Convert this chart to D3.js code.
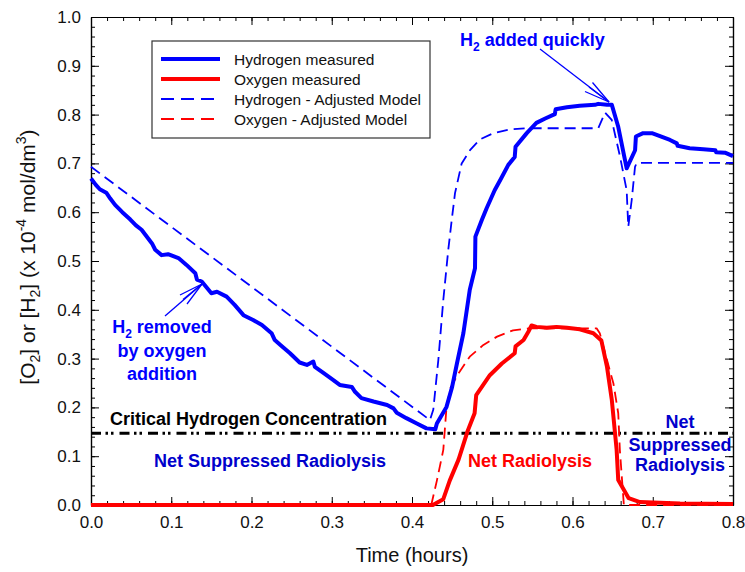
<!DOCTYPE html>
<html>
<head>
<meta charset="utf-8">
<script src="https://cdn.jsdelivr.net/npm/d3@7"></script>
<style>
  html, body { margin: 0; padding: 0; background: #fff; }
  svg { display: block; font-family: "Liberation Sans", Arial, Helvetica, sans-serif; }
</style>
</head>
<body>
<svg id="chart" width="745" height="572"></svg>
<script>
// Time axis (hours) and concentration axis (x 10^-4 mol/dm3)
const xMajorTicks = [0, 0.1, 0.2, 0.3, 0.4, 0.5, 0.6, 0.7, 0.8];
const yMajorTicks = [0, 0.1, 0.2, 0.3, 0.4, 0.5, 0.6, 0.7, 0.8, 0.9, 1.0];

// Hydrogen measured: [time, concentration]
const hydrogenMeasured = [
  [0.000,0.669],[0.006,0.656],[0.011,0.647],[0.019,0.640],[0.024,0.628],[0.030,0.615],
  [0.039,0.600],[0.049,0.585],[0.056,0.573],[0.063,0.564],[0.076,0.536],[0.080,0.523],
  [0.088,0.512],[0.096,0.514],[0.109,0.506],[0.119,0.492],[0.130,0.475],[0.132,0.462],
  [0.138,0.458],[0.150,0.434],[0.157,0.437],[0.169,0.427],[0.179,0.410],[0.190,0.389],
  [0.202,0.379],[0.213,0.369],[0.225,0.352],[0.229,0.338],[0.236,0.328],[0.248,0.311],
  [0.260,0.292],[0.269,0.287],[0.277,0.294],[0.279,0.283],[0.290,0.270],[0.302,0.256],
  [0.310,0.246],[0.325,0.242],[0.329,0.232],[0.337,0.219],[0.352,0.212],[0.369,0.205],
  [0.377,0.198],[0.381,0.189],[0.393,0.178],[0.406,0.167],[0.418,0.157],[0.429,0.155],
  [0.431,0.167],[0.437,0.184],[0.443,0.201],[0.450,0.242],[0.456,0.290],[0.464,0.352],
  [0.472,0.441],[0.4785,0.485],[0.4790,0.550],[0.487,0.584],[0.493,0.608],[0.503,0.645],
  [0.510,0.666],[0.520,0.697],[0.528,0.713],[0.529,0.734],[0.543,0.762],[0.555,0.783],
  [0.566,0.792],[0.578,0.801],[0.579,0.811],[0.593,0.815],[0.609,0.818],[0.628,0.820],
  [0.632,0.822],[0.643,0.820],[0.649,0.820],[0.657,0.775],[0.6675,0.690],[0.678,0.727],
  [0.679,0.755],[0.688,0.762],[0.699,0.762],[0.7215,0.748],[0.730,0.741],[0.731,0.736],
  [0.746,0.731],[0.763,0.729],[0.778,0.727],[0.779,0.723],[0.790,0.722],[0.800,0.715]
];

// Oxygen measured
const oxygenMeasured = [
  [0.000,0.000],[0.426,0.000],[0.439,0.012],[0.447,0.050],[0.458,0.093],[0.469,0.150],
  [0.478,0.188],[0.480,0.225],[0.497,0.266],[0.512,0.290],[0.528,0.311],[0.529,0.325],
  [0.539,0.338],[0.545,0.355],[0.549,0.368],[0.555,0.365],[0.568,0.363],[0.580,0.365],
  [0.593,0.363],[0.609,0.360],[0.626,0.352],[0.636,0.337],[0.643,0.283],[0.649,0.215],
  [0.655,0.113],[0.657,0.051],[0.670,0.014],[0.684,0.006],[0.734,0.003],[0.800,0.002]
];

// Hydrogen - adjusted model
const hydrogenModel = [
  [0.000,0.693],[0.4224,0.174],[0.4265,0.195],[0.4328,0.297],[0.439,0.420],[0.4452,0.523],
  [0.4495,0.584],[0.4536,0.639],[0.4619,0.700],[0.4723,0.727],[0.4847,0.749],[0.5013,0.762],
  [0.5221,0.770],[0.5429,0.772],[0.6321,0.772],[0.6405,0.804],[0.6489,0.789],[0.6592,0.714],
  [0.6675,0.645],[0.6695,0.570],[0.6738,0.625],[0.6779,0.693],[0.680,0.701],[0.800,0.701]
];

// Oxygen - adjusted model
const oxygenModel = [
  [0.000,0.000],[0.424,0.000],[0.431,0.050],[0.439,0.113],[0.443,0.200],[0.448,0.240],
  [0.458,0.270],[0.472,0.304],[0.489,0.328],[0.506,0.345],[0.526,0.358],[0.547,0.362],
  [0.630,0.362],[0.634,0.352],[0.643,0.297],[0.651,0.249],[0.657,0.188],[0.659,0.113],
  [0.664,0.000],[0.800,0.000]
];

const criticalHydrogen = 0.147;

const seriesNames = ["Hydrogen measured", "Oxygen measured", "Hydrogen - Adjusted Model", "Oxygen - Adjusted Model"];
const seriesData = [hydrogenMeasured, oxygenMeasured, hydrogenModel, oxygenModel];
const seriesColors = ["#0000ff", "#ff0000", "#0000ff", "#ff0000"];
const seriesDashed = [false, false, true, true];

const svg = d3.select("#chart");
const x = d3.scaleLinear().domain([0, 0.8]).range([91, 733]);
const y = d3.scaleLinear().domain([0, 1]).range([505, 17]);

const fmt = d3.format(".1f");
const minorX = d3.range(0, 0.8001, 0.02);
const minorY = d3.range(0, 1.0001, 0.02);

function styleAxis(g) {
  g.selectAll("path.domain").attr("stroke", "#000").attr("stroke-width", 1.2);
  g.selectAll(".tick line").attr("stroke", "#000").attr("stroke-width", 1);
  g.selectAll(".tick text").attr("fill", "#111").attr("font-size", 17);
}

// minor ticks (all four sides, pointing inward)
svg.append("g").attr("transform", `translate(0,${y(0)})`)
  .call(d3.axisBottom(x).tickValues(minorX).tickFormat("").tickSize(-4).tickSizeOuter(0)).call(styleAxis);
svg.append("g").attr("transform", `translate(0,${y(1)})`)
  .call(d3.axisTop(x).tickValues(minorX).tickFormat("").tickSize(-4).tickSizeOuter(0)).call(styleAxis);
svg.append("g").attr("transform", `translate(${x(0)},0)`)
  .call(d3.axisLeft(y).tickValues(minorY).tickFormat("").tickSize(-4).tickSizeOuter(0)).call(styleAxis);
svg.append("g").attr("transform", `translate(${x(0.8)},0)`)
  .call(d3.axisRight(y).tickValues(minorY).tickFormat("").tickSize(-4).tickSizeOuter(0)).call(styleAxis);

// major ticks with labels
svg.append("g").attr("transform", `translate(0,${y(0)})`)
  .call(d3.axisBottom(x).tickValues(xMajorTicks).tickFormat(fmt).tickSize(-8).tickSizeOuter(0).tickPadding(11)).call(styleAxis);
svg.append("g").attr("transform", `translate(0,${y(1)})`)
  .call(d3.axisTop(x).tickValues(xMajorTicks).tickFormat("").tickSize(-8).tickSizeOuter(0)).call(styleAxis);
svg.append("g").attr("transform", `translate(${x(0)},0)`)
  .call(d3.axisLeft(y).tickValues(yMajorTicks).tickFormat(fmt).tickSize(-8).tickSizeOuter(0).tickPadding(10)).call(styleAxis);
svg.append("g").attr("transform", `translate(${x(0.8)},0)`)
  .call(d3.axisRight(y).tickValues(yMajorTicks).tickFormat("").tickSize(-8).tickSizeOuter(0)).call(styleAxis);

// critical hydrogen concentration line
svg.append("line")
  .attr("x1", x(0)).attr("x2", x(0.8))
  .attr("y1", y(criticalHydrogen)).attr("y2", y(criticalHydrogen))
  .attr("stroke", "#000").attr("stroke-width", 3)
  .attr("stroke-dasharray", "10,4.5,2.5,3,2.5,6");

// data lines
const line = d3.line().x(d => x(d[0])).y(d => y(d[1]));
const drawOrder = [2, 3, 1, 0];
drawOrder.forEach(i => {
  svg.append("path")
    .datum(seriesData[i])
    .attr("d", line)
    .attr("fill", "none")
    .attr("stroke", seriesColors[i])
    .attr("stroke-width", seriesDashed[i] ? 1.8 : 4)
    .attr("stroke-linejoin", "round")
    .attr("stroke-dasharray", seriesDashed[i] ? "11,6" : null);
});

// legend
const legend = svg.append("g");
legend.append("rect")
  .attr("x", 152).attr("y", 41).attr("width", 278).attr("height", 97)
  .attr("fill", "#fff").attr("stroke", "#333").attr("stroke-width", 1.2);
seriesNames.forEach((name, i) => {
  const ly = 59 + i * 20;
  legend.append("line")
    .attr("x1", 161).attr("x2", 220).attr("y1", ly).attr("y2", ly)
    .attr("stroke", seriesColors[i])
    .attr("stroke-width", seriesDashed[i] ? 1.8 : 4)
    .attr("stroke-dasharray", seriesDashed[i] ? "13,7" : null);
  legend.append("text")
    .attr("x", 234).attr("y", ly + 5.5)
    .attr("font-size", 15.5).attr("fill", "#111")
    .text(name);
});

// annotations
function boldText(tx, ty, color, anchor, size) {
  return svg.append("text").attr("x", tx).attr("y", ty)
    .attr("font-size", size || 18).attr("font-weight", "bold")
    .attr("fill", color).attr("text-anchor", anchor || "start");
}

boldText(110, 425, "#000").text("Critical Hydrogen Concentration");
boldText(154, 467, "#0000cc").text("Net Suppressed Radiolysis");
boldText(468, 467, "#ff0000").text("Net Radiolysis");
boldText(680, 428, "#0000cc", "middle").text("Net");
boldText(680, 451, "#0000cc", "middle").text("Suppressed");
boldText(680, 471, "#0000cc", "middle").text("Radiolysis");

// H2 added quickly
const tAdd = boldText(460, 46, "#0000ff");
tAdd.append("tspan").text("H");
tAdd.append("tspan").attr("font-size", 12).attr("dy", 5).text("2");
tAdd.append("tspan").attr("dy", -5).text(" added quickly");

// H2 removed by oxygen addition
const tRem = boldText(162, 333, "#0000ff", "middle");
tRem.append("tspan").text("H");
tRem.append("tspan").attr("font-size", 12).attr("dy", 5).text("2");
tRem.append("tspan").attr("dy", -5).text(" removed");
boldText(162, 357, "#0000ff", "middle").text("by oxygen");
boldText(162, 380, "#0000ff", "middle").text("addition");

// arrows
function arrow(x1, y1, x2, y2, heads) {
  const g = svg.append("g").attr("stroke", "#0000ff").attr("stroke-width", 1.3).attr("fill", "none");
  g.append("line").attr("x1", x1).attr("y1", y1).attr("x2", x2).attr("y2", y2);
  heads.forEach(h => g.append("line").attr("x1", h[0]).attr("y1", h[1]).attr("x2", x2).attr("y2", y2));
}
arrow(540, 49, 609, 102, [[592.5, 82.5], [585, 91.5], [589, 87]]);
arrow(165, 316, 202, 284, [[180, 295], [187, 304], [183, 299.5]]);

// axis titles
const yl = svg.append("text")
  .attr("transform", "translate(35,257) rotate(-90)")
  .attr("text-anchor", "middle").attr("font-size", 21).attr("fill", "#111");
yl.append("tspan").text("[O");
yl.append("tspan").attr("font-size", 14).attr("dy", 5).text("2");
yl.append("tspan").attr("dy", -5).text("] or [H");
yl.append("tspan").attr("font-size", 14).attr("dy", 5).text("2");
yl.append("tspan").attr("dy", -5).text("] (x 10");
yl.append("tspan").attr("font-size", 14).attr("dy", -9).text("-4");
yl.append("tspan").attr("dy", 9).text(" mol/dm");
yl.append("tspan").attr("font-size", 14).attr("dy", -9).text("3");
yl.append("tspan").attr("dy", 9).text(")");

svg.append("text")
  .attr("x", 412).attr("y", 562)
  .attr("text-anchor", "middle").attr("font-size", 20).attr("fill", "#111")
  .text("Time (hours)");
</script>
</body>
</html>
